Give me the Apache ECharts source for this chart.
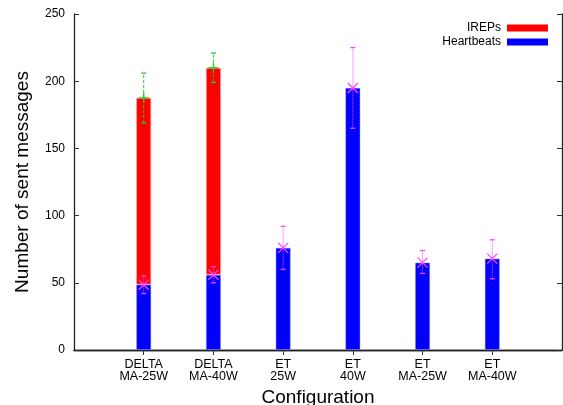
<!DOCTYPE html>
<html>
<head>
<meta charset="utf-8">
<script src="https://cdn.jsdelivr.net/npm/echarts@6/dist/echarts.min.js"></script>
<style>html,body{margin:0;padding:0;background:#fff}#c{width:563px;height:405px}</style>
</head>
<body>
<div id="c"></div>
<script>
var categories = ['DELTA\nMA-25W', 'DELTA\nMA-40W', 'ET\n25W', 'ET\n40W', 'ET\nMA-25W', 'ET\nMA-40W'];
var heartbeats = [48.6, 56, 76, 195, 65, 68];
var ireps = [139, 154, 0, 0, 0, 0];
var hbLow = [42, 50, 60, 165, 57, 53];
var hbHigh = [55, 62, 92, 225, 74, 82];
var totalLow = [169, 199, null, null, null, null];
var totalHigh = [206, 221, null, null, null, null];
var yTicks = [0, 50, 100, 150, 200, 250];

var FONT = 'Liberation Sans, Arial, Helvetica, sans-serif';
var axisCats = [''].concat(categories).concat(['']);
function pad(a) { return [null].concat(a).concat([null]); }

var hbErrData = heartbeats.map(function (v, i) { return [i + 1, v, hbLow[i], hbHigh[i]]; });
var totErrData = [];
ireps.forEach(function (v, i) {
  if (totalLow[i] != null) totErrData.push([i + 1, heartbeats[i] + v, totalLow[i], totalHigh[i]]);
});

function errRender(color, dash, marker) {
  return function (params, api) {
    var x = api.value(0);
    var c = api.coord([x, api.value(1)]);
    var lo = api.coord([x, api.value(2)]);
    var hi = api.coord([x, api.value(3)]);
    var style = { stroke: color, lineWidth: 1, lineDash: dash };
    var solid = { stroke: color, lineWidth: 1.3 };
    var ch = [
      { type: 'line', shape: { x1: c[0], y1: lo[1], x2: c[0], y2: hi[1] }, style: style },
      { type: 'line', shape: { x1: c[0] - 2.5, y1: lo[1], x2: c[0] + 2.5, y2: lo[1] }, style: solid },
      { type: 'line', shape: { x1: c[0] - 2.5, y1: hi[1], x2: c[0] + 2.5, y2: hi[1] }, style: solid }
    ];
    var s = 5;
    if (marker === 'x') {
      ch.push({ type: 'line', shape: { x1: c[0] - s, y1: c[1] - s, x2: c[0] + s, y2: c[1] + s }, style: solid });
      ch.push({ type: 'line', shape: { x1: c[0] - s, y1: c[1] + s, x2: c[0] + s, y2: c[1] - s }, style: solid });
    } else {
      ch.push({ type: 'line', shape: { x1: c[0] - s, y1: c[1], x2: c[0] + s, y2: c[1] }, style: solid });
      ch.push({ type: 'line', shape: { x1: c[0], y1: c[1] - s, x2: c[0], y2: c[1] + s }, style: solid });
    }
    return { type: 'group', children: ch };
  };
}

var chart = echarts.init(document.getElementById('c'), null, { renderer: 'canvas' });
chart.setOption({
  animation: false,
  backgroundColor: '#fff',
  textStyle: { fontFamily: FONT },
  grid: { left: 74, top: 14, right: 1, bottom: 55, containLabel: false, outerBoundsMode: 'none' },
  legend: {
    orient: 'vertical', right: 10, top: 17, align: 'right',
    itemWidth: 41, itemHeight: 7, itemGap: 2,
    icon: 'rect',
    itemStyle: { borderWidth: 0 },
    textStyle: { fontFamily: FONT, fontSize: 12, color: '#000', padding: [0, 1, 0, 0] },
    data: ['IREPs', 'Heartbeats']
  },
  xAxis: [{
    type: 'category', data: axisCats, boundaryGap: false,
    name: 'Configuration', nameLocation: 'middle', nameGap: 37,
    nameTextStyle: { fontFamily: FONT, fontSize: 19, color: '#000' },
    axisLine: { lineStyle: { color: '#222', width: 1.3 } },
    axisTick: { show: true, length: 5, interval: function (i) { return i > 0 && i < 7; }, lineStyle: { color: '#333' } },
    axisLabel: { interval: 0, margin: 9, fontFamily: FONT, fontSize: 12.5, lineHeight: 12, color: '#000' },
    splitLine: { show: false }
  }, {
    type: 'category', data: axisCats, boundaryGap: false, position: 'top',
    axisLine: { lineStyle: { color: '#222', width: 1.3 } },
    axisTick: { show: false }, axisLabel: { show: false }
  }],
  yAxis: [{
    type: 'value', min: 0, max: 250, interval: 50,
    name: 'Number of sent messages', nameLocation: 'middle', nameGap: 42,
    nameTextStyle: { fontFamily: FONT, fontSize: 19, color: '#000' },
    axisLine: { show: true, lineStyle: { color: '#222', width: 1.3 } },
    axisTick: { show: true, inside: true, length: 5, lineStyle: { color: '#333' } },
    axisLabel: { margin: 9, fontFamily: FONT, fontSize: 12, color: '#000',
      formatter: function (v) { return yTicks.indexOf(v) >= 0 ? String(v) : ''; } },
    splitLine: { show: false }
  }, {
    type: 'value', min: 0, max: 250, interval: 50, position: 'right',
    axisLine: { show: true, lineStyle: { color: '#222', width: 1.3 } },
    axisTick: { show: true, inside: true, length: 5, lineStyle: { color: '#333' } },
    axisLabel: { show: false }, splitLine: { show: false }
  }],
  series: [{
    name: 'Heartbeats', type: 'bar', stack: 'total', barWidth: 15,
    data: pad(heartbeats),
    itemStyle: { color: '#0000ff', borderColor: '#8888ff', borderWidth: 0.8, borderType: 'dotted' }
  }, {
    name: 'IREPs', type: 'bar', stack: 'total', barWidth: 15,
    data: pad(ireps.map(function (v) { return v > 0 ? v : null; })),
    itemStyle: { color: '#ff0000', borderColor: '#ff9999', borderWidth: 0.8 }
  }, {
    name: 'totErr', type: 'custom', renderItem: errRender('#22cc22', [3, 2], '+'),
    data: totErrData, z: 5, encode: { x: 0, y: [1, 2, 3] }
  }, {
    name: 'hbErr', type: 'custom', renderItem: errRender('#ff44ff', [1, 1], 'x'),
    data: hbErrData, z: 6, encode: { x: 0, y: [1, 2, 3] }
  }]
});
</script>
</body>
</html>
